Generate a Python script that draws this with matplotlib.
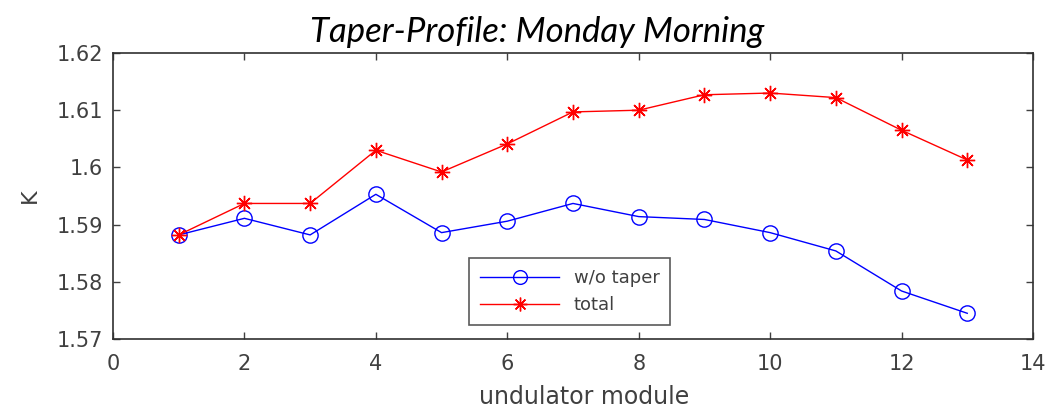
import matplotlib
matplotlib.use("Agg")
import matplotlib.pyplot as plt
from matplotlib.ticker import FuncFormatter

modules = [1, 2, 3, 4, 5, 6, 7, 8, 9, 10, 11, 12, 13]
wo_taper = [1.5882, 1.5911, 1.5882, 1.5953, 1.5886, 1.5906, 1.5937,
            1.5914, 1.5909, 1.5886, 1.5854, 1.5784, 1.5745]
total = [1.5882, 1.5937, 1.5937, 1.6030, 1.5992, 1.6041, 1.6097,
         1.6100, 1.6127, 1.6130, 1.6122, 1.6065, 1.6013]
xticks = [0, 2, 4, 6, 8, 10, 12, 14]
yticks = [1.57, 1.58, 1.59, 1.60, 1.61, 1.62]

textc = "#404040"
fig = plt.figure(figsize=(10.6, 4.07), dpi=100)
ax = fig.add_axes([0.1066, 0.167, 0.8679, 0.7028])

ax.plot(modules, wo_taper, color="blue", marker="o", markersize=11,
        markerfacecolor="none", markeredgecolor="blue", linewidth=1.0,
        label="w/o taper")
ax.plot(modules, total, color="red", marker=(8, 2, 0), markersize=11,
        markeredgecolor="red", linewidth=1.0, label="total")

ax.set_xlim(0, 14)
ax.set_ylim(1.57, 1.62)
ax.set_xticks(xticks)
ax.set_yticks(yticks)
ax.yaxis.set_major_formatter(FuncFormatter(lambda v, p: "%g" % round(v, 4)))
ax.tick_params(direction="in", top=True, right=True, length=5,
               labelsize=15, colors=textc, width=1)
ax.tick_params(axis="x", pad=11)
ax.tick_params(axis="y", pad=7)
for s in ax.spines.values():
    s.set_color("#303030")
    s.set_linewidth(1.2)

ax.set_xlabel("undulator module", fontsize=17, color=textc, labelpad=7)
ax.xaxis.set_label_coords(0.512, -0.16, transform=ax.transAxes)
ax.xaxis.label.set_verticalalignment("top")
ax.set_ylabel("K", fontsize=16, color=textc, labelpad=12)
ax.set_title("Taper-Profile: Monday Morning", fontsize=25, style="italic",
             family="Lato", color="black", pad=8, x=0.461)

leg = ax.legend(loc="lower left", bbox_to_anchor=(0.387, 0.049),
                fontsize=13, handlelength=4.4, frameon=True, fancybox=False,
                borderaxespad=0, borderpad=0.6, labelcolor=textc,
                markerscale=0.9)
leg.get_frame().set_edgecolor("#303030")
leg.get_frame().set_linewidth(1.2)

fig.savefig("out.png", dpi=100)
